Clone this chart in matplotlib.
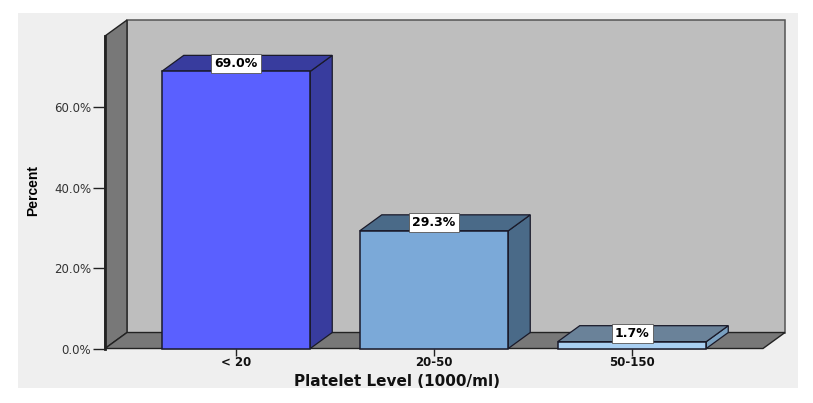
import matplotlib
matplotlib.use('Agg')
import matplotlib.pyplot as plt
from matplotlib.patches import Rectangle

categorias = ['< 20', '20-50', '50-150']
percentuais = [69.0, 29.3, 1.7]
y_ticks = [0, 20, 40, 60]

cor_frente = ['#5A60FF', '#7BA9D8', '#A9CFF2']
cor_topo = ['#383C9E', '#4A6A88', '#6A8299']
cor_lado = ['#383C9E', '#4A6A88', '#7AA0C0']
linha = '#1A1A2A'

W, H = 813, 403
fig = plt.figure(figsize=(W / 100, H / 100), dpi=100, facecolor='white')

# fundo cinza claro do grafico
fig.patches.append(Rectangle((18 / W, 1 - 388 / H), 780 / W, 375 / H,
                             transform=fig.transFigure, facecolor='#EFEFEF',
                             edgecolor='none', zorder=-5))

ax = fig.add_axes([105 / W, 1 - 348.5 / H, 658 / W, 312.5 / H])
ax.patch.set_alpha(0)
ax.set_xlim(-0.6616, 2.6616)
ax.set_ylim(0, 77.8)
for s in ax.spines.values():
    s.set_visible(False)

# profundidade do efeito 3D em unidades de dados
dx = 22 / 198
dy = 3.98
x0, x1 = ax.get_xlim()
y1 = ax.get_ylim()[1]
bar_w = 0.75

# paredes e piso
ax.fill([x0 + dx, x1 + dx, x1 + dx, x0 + dx], [dy, dy, y1 + dy, y1 + dy],
        facecolor='#BEBEBE', edgecolor='#555555', lw=1.1, clip_on=False, zorder=1)
ax.fill([x0, x0 + dx, x0 + dx, x0], [0, dy, y1 + dy, y1],
        facecolor='#787878', edgecolor='#222222', lw=1.0, clip_on=False, zorder=2)
ax.fill([x0, x1, x1 + dx, x0 + dx], [0, 0, dy, dy],
        facecolor='#787878', edgecolor='#222222', lw=1.0, clip_on=False, zorder=2)
ax.plot([x0, x0], [0, y1], color='#222222', lw=2, clip_on=False, zorder=3)

# barras 3D
for i, v in enumerate(percentuais):
    e, d = i - bar_w / 2, i + bar_w / 2
    ax.fill([d, d + dx, d + dx, d], [0, dy, v + dy, v], facecolor=cor_lado[i],
            edgecolor=linha, lw=0.9, clip_on=False, zorder=4)
    ax.fill([e, d, d + dx, e + dx], [v, v, v + dy, v + dy], facecolor=cor_topo[i],
            edgecolor=linha, lw=0.9, clip_on=False, zorder=4)
    ax.bar(i, v, width=bar_w, color=cor_frente[i], edgecolor=linha, lw=1.1,
           clip_on=False, zorder=5)
    ax.text(i, v + dy / 2, f'{v:.1f}%', ha='center', va='center',
            fontsize=9, fontweight='bold', color='black', zorder=6,
            bbox=dict(boxstyle='square,pad=0.25', facecolor='white',
                      edgecolor='#555555', lw=0.6))

ax.set_xticks(range(len(categorias)))
ax.set_xticklabels(categorias, fontsize=8.5, color='#111111', fontweight='bold')
ax.set_yticks(y_ticks)
ax.set_yticklabels([f'{t:.1f}%' for t in y_ticks], fontsize=8.5, color='#333333')
ax.tick_params(axis='y', length=9, width=1, color='#222222', pad=1)
ax.tick_params(axis='x', length=5, width=1, color='#222222', pad=0.5)
ax.set_axisbelow(False)

fig.text(397 / W, 1 - 381 / H, 'Platelet Level (1000/ml)', ha='center', va='center',
         fontsize=11, fontweight='bold', color='#111111')
fig.text(33 / W, 1 - 191 / H, 'Percent', rotation=90, ha='center', va='center',
         fontsize=10, fontweight='bold', color='black',
         family=['Liberation Sans Narrow', 'Liberation Sans'])

fig.savefig('out.png', dpi=100, facecolor='white')
